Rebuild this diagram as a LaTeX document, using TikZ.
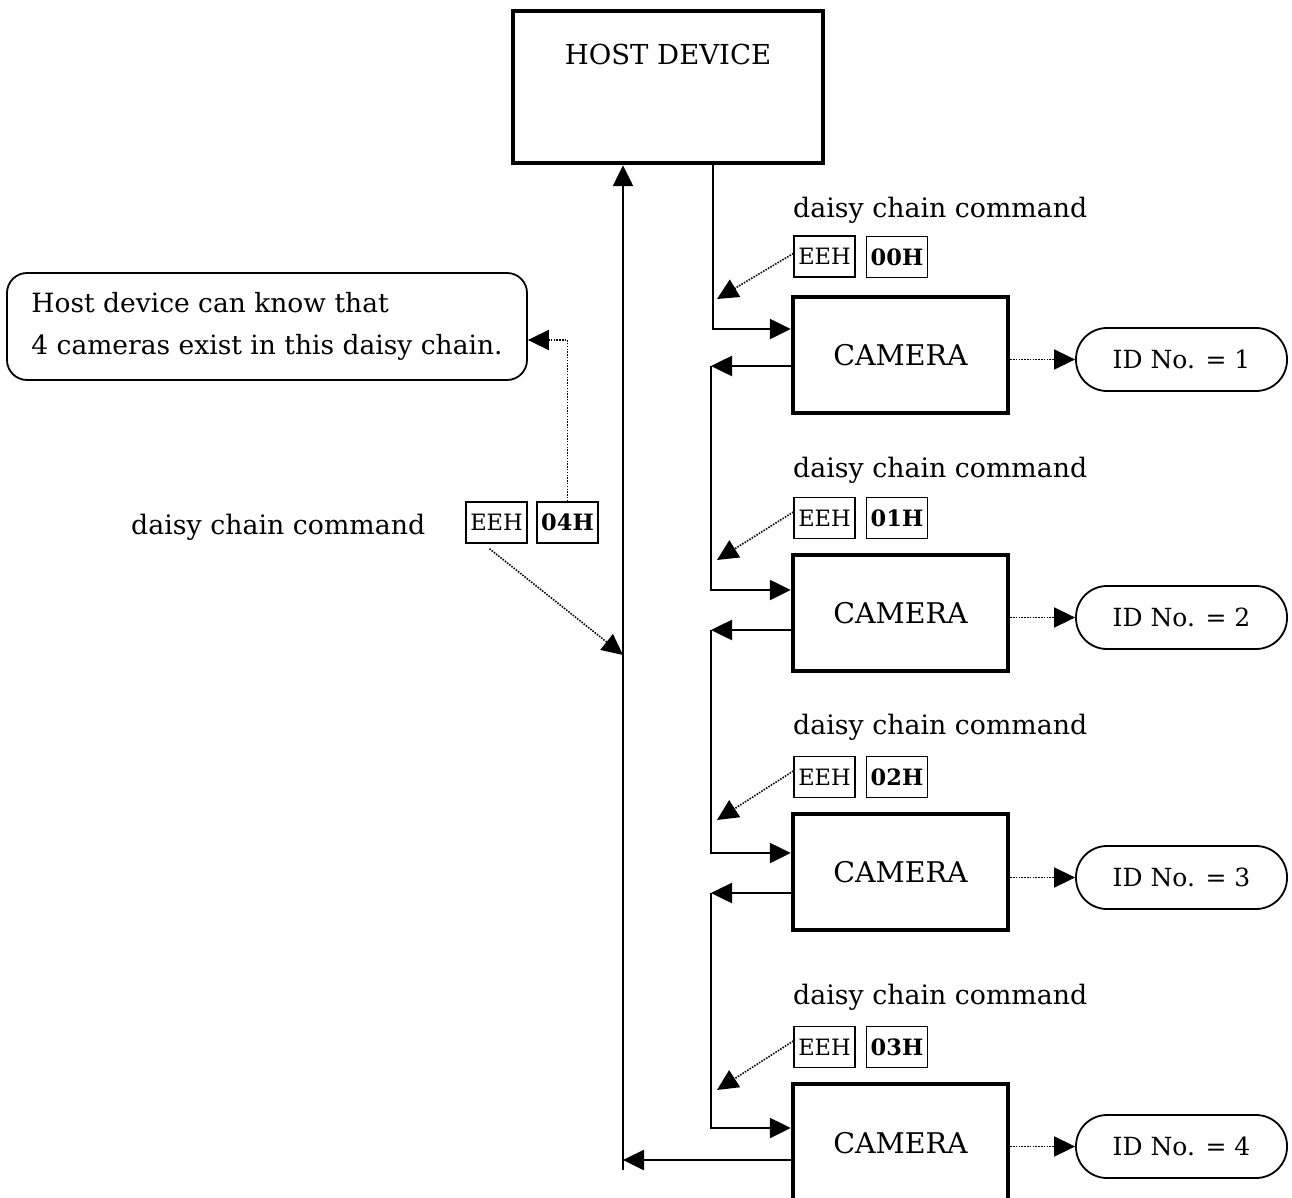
\documentclass[tikz,border=0pt]{standalone}
\usepackage{fontspec}
\setmainfont{DejaVu Serif}
\usetikzlibrary{arrows.meta}
\tikzset{
  tip/.style={-{Triangle[length=21pt,width=20pt]}},
  wire/.style={line width=2.6pt},
  dots/.style={line width=1.6pt,dash pattern=on 1.5pt off 1.3pt},
  bigbox/.style={draw,line width=4.5pt,inner sep=0pt},
  cambox/.style={bigbox,minimum width=215pt,minimum height=116pt,font=\fontsize{28.5}{34}\selectfont},
  codebox/.style={draw,line width=1.5pt,minimum width=61pt,minimum height=41pt,inner sep=0pt,font=\fontsize{22.5}{26}\selectfont},
  idbox/.style={draw,line width=1.8pt,rounded corners=31pt,minimum width=211pt,minimum height=63pt,inner sep=0pt,font=\fontsize{25}{30}\selectfont},
  cmdlabel/.style={anchor=west,inner sep=0pt,font=\fontsize{26.8}{32}\selectfont},
}
\begin{document}
\begin{tikzpicture}[x=1pt,y=-1pt]
\useasboundingbox (0,0) rectangle (1292,1198);

% host and cameras
\node[bigbox,minimum width=310pt,minimum height=152pt] (host) at (668,87) {};
\node[font=\fontsize{27.5}{32}\selectfont] (hosttext) at (668,54) {HOST DEVICE};
\node[cambox] (cam1) at (900.5,355) {CAMERA};
\node[cambox] (cam2) at (900.5,613) {CAMERA};
\node[cambox] (cam3) at (900.5,872) {CAMERA};
\node[cambox,minimum height=124pt,text depth=6pt] (cam4) at (900.5,1146) {CAMERA};

% identification results
\node[idbox] (id1) at (1181.5,359.5) {ID No. = 1};
\node[idbox] (id2) at (1181.5,617.5) {ID No. = 2};
\node[idbox] (id3) at (1181.5,877.5) {ID No. = 3};
\node[idbox] (id4) at (1181.5,1146.5) {ID No. = 4};
\foreach \i in {1,2,3,4}
  \draw[dots,tip] (id\i.west -| cam\i.east) -- (id\i.west);

% daisy chain commands passed along the chain
\node[cmdlabel] (cmd1) at (793,210) {daisy chain command};
\node[cmdlabel] (cmd2) at (793,470) {daisy chain command};
\node[cmdlabel] (cmd3) at (793,727) {daisy chain command};
\node[cmdlabel] (cmd4) at (793,997) {daisy chain command};
\node[cmdlabel] (cmd5) at (131,527) {daisy chain command};

\node[codebox] (e1) at (824.5,256.5) {EEH};
\node[codebox,font=\fontsize{22.5}{26}\selectfont\bfseries] (c1) at (897,257) {00H};
\node[codebox] (e2) at (824.5,518) {EEH};
\node[codebox,font=\fontsize{22.5}{26}\selectfont\bfseries] (c2) at (897,518) {01H};
\node[codebox] (e3) at (824.5,777) {EEH};
\node[codebox,font=\fontsize{22.5}{26}\selectfont\bfseries] (c3) at (897,777) {02H};
\node[codebox] (e4) at (824.5,1047) {EEH};
\node[codebox,font=\fontsize{22.5}{26}\selectfont\bfseries] (c4) at (897,1047) {03H};
\node[codebox] (e5) at (496.5,522.5) {EEH};
\node[codebox,font=\fontsize{22.5}{26}\selectfont\bfseries] (c5) at (567.5,522.5) {04H};

% note to the host
\node[draw,line width=1.8pt,rounded corners=20pt,minimum width=520pt,minimum height=107pt,
      align=left,font=\fontsize{26.5}{42}\selectfont] (note) at (267,326.5)
  {Host device can know that\\4 cameras exist in this daisy chain.};

% wiring of the chain
\coordinate (t1) at (713,329);
\coordinate (r1) at (711,366);
\coordinate (t2) at (711,590);
\coordinate (r2) at (711,630);
\coordinate (t3) at (711,853);
\coordinate (r3) at (711,893);
\coordinate (t4) at (711,1128);
\coordinate (r4) at (623,1160);
\coordinate (rb) at (623,1170);

\draw[wire,tip] (host.south -| t1) -- (t1) -- (t1 -| cam1.west);
\draw[wire,tip] (cam1.west |- r1) -- (r1);
\draw[wire,tip] (r1) -- (t2) -- (t2 -| cam2.west);
\draw[wire,tip] (cam2.west |- r2) -- (r2);
\draw[wire,tip] (r2) -- (t3) -- (t3 -| cam3.west);
\draw[wire,tip] (cam3.west |- r3) -- (r3);
\draw[wire,tip] (r3) -- (t4) -- (t4 -| cam4.west);
\draw[wire,tip] (cam4.west |- r4) -- (r4);
\draw[wire,tip] (rb) -- (host.south -| rb);

% command pointers
\coordinate (p1) at (717,299);
\coordinate (p2) at (717,560);
\coordinate (p3) at (717,820);
\coordinate (p4) at (717,1090);
\coordinate (p5) at (623,655);
\draw[dots,tip] ([yshift=3pt]e1.west) -- (p1);
\draw[dots,tip] ([yshift=6pt]e2.west) -- (p2);
\draw[dots,tip] ([yshift=6pt]e3.west) -- (p3);
\draw[dots,tip] ([yshift=6pt]e4.west) -- (p4);
\draw[dots,tip] ([xshift=-7pt,yshift=-5pt]e5.south) -- (p5);
\draw[dots,tip] (c5.north) |- ([yshift=-13.5pt]note.east);
\end{tikzpicture}
\end{document}
